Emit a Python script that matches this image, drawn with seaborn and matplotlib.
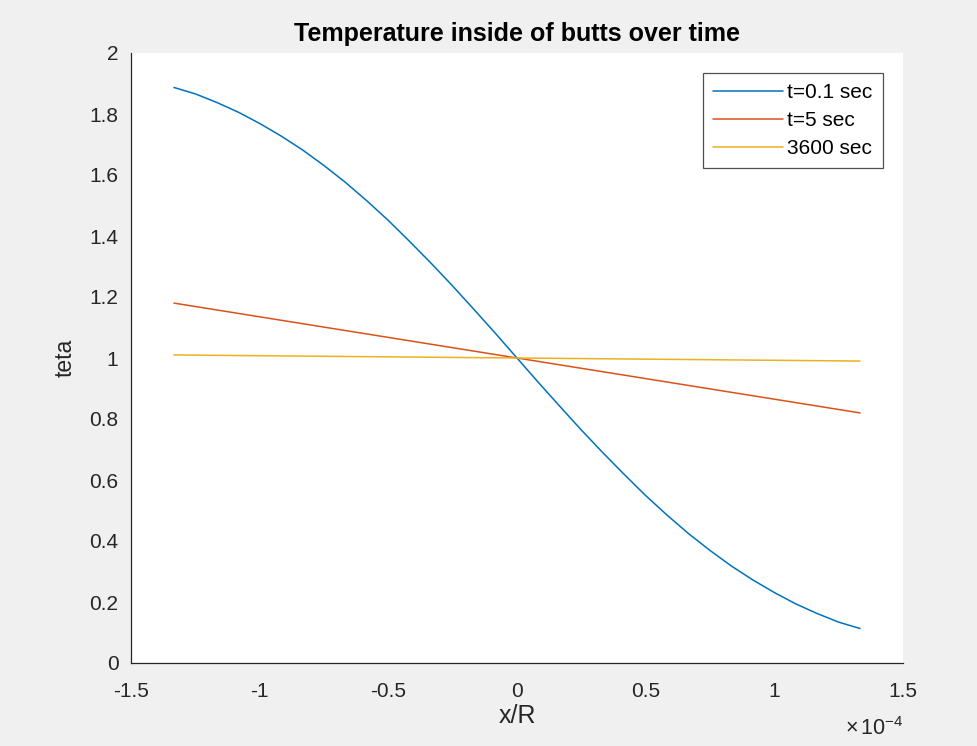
import numpy as np
import pandas as pd
import matplotlib
matplotlib.use("Agg")
import matplotlib.pyplot as plt
import seaborn as sns

# Position across the butt, x/R (units of 1e-4)
x_grid = [-1.333, -1.250, -1.167, -1.083, -1.000, -0.917, -0.833, -0.750,
          -0.667, -0.583, -0.500, -0.417, -0.333, -0.250, -0.167, -0.083,
          0.000, 0.083, 0.167, 0.250, 0.333, 0.417, 0.500, 0.583,
          0.667, 0.750, 0.833, 0.917, 1.000, 1.083, 1.167, 1.250, 1.333]

# Dimensionless temperature at t = 0.1 s
teta_01s = [1.887, 1.866, 1.838, 1.806, 1.769, 1.728, 1.682, 1.631,
            1.576, 1.515, 1.451, 1.382, 1.310, 1.236, 1.159, 1.080,
            1.000, 0.920, 0.841, 0.764, 0.690, 0.618, 0.549, 0.485,
            0.424, 0.369, 0.318, 0.272, 0.231, 0.194, 0.162, 0.134, 0.113]

# The later profiles are straight lines through the centre
x_line = [-1.333, 0.000, 1.333]
teta_5s = [1.180, 1.000, 0.820]
teta_3600s = [1.010, 1.000, 0.990]

series_names = ["t=0.1 sec", "t=5 sec", "3600 sec"]
x_tick_values = [-1.5, -1.0, -0.5, 0.0, 0.5, 1.0, 1.5]
x_tick_labels = ["-1.5", "-1", "-0.5", "0", "0.5", "1", "1.5"]
y_tick_values = [0, 0.2, 0.4, 0.6, 0.8, 1.0, 1.2, 1.4, 1.6, 1.8, 2.0]
y_tick_labels = ["0", "0.2", "0.4", "0.6", "0.8", "1", "1.2", "1.4", "1.6", "1.8", "2"]

scale = 1e-4
frames = [
    pd.DataFrame({"x": np.array(x_grid) * scale, "teta": teta_01s, "series": series_names[0]}),
    pd.DataFrame({"x": np.array(x_line) * scale, "teta": teta_5s, "series": series_names[1]}),
    pd.DataFrame({"x": np.array(x_line) * scale, "teta": teta_3600s, "series": series_names[2]}),
]
df = pd.concat(frames, ignore_index=True)

sns.set_style("white")
plt.rcParams["font.family"] = ["Liberation Sans", "DejaVu Sans"]
plt.rcParams["axes.unicode_minus"] = False
plt.rcParams["mathtext.fontset"] = "custom"
plt.rcParams["mathtext.rm"] = "Liberation Sans"
plt.rcParams["mathtext.it"] = "Liberation Sans"

ink = "#262626"
palette = ["#0072BD", "#D95319", "#EDB120"]

fig = plt.figure(figsize=(9.77, 7.46), dpi=100, facecolor="#f0f0f0")
ax = fig.add_axes([131 / 977, 1 - 663 / 746, 772 / 977, 610 / 746])
ax.set_facecolor("white")

sns.lineplot(data=df, x="x", y="teta", hue="series", hue_order=series_names,
             palette=palette, linewidth=1.1, sort=False, ax=ax, legend=True)

ax.set_xlim(-1.5 * scale, 1.5 * scale)
ax.set_ylim(0, 2)
ax.set_xticks([v * scale for v in x_tick_values])
ax.set_xticklabels(x_tick_labels)
ax.set_yticks(y_tick_values)
ax.set_yticklabels(y_tick_labels)

for side in ["top", "right"]:
    ax.spines[side].set_visible(False)
for side in ["left", "bottom"]:
    ax.spines[side].set_color(ink)
    ax.spines[side].set_linewidth(0.9)

ax.tick_params(axis="both", direction="in", length=6, width=0.9, color=ink,
               labelcolor=ink, labelsize=15)
ax.tick_params(axis="x", pad=13.5)
ax.tick_params(axis="y", pad=9)

ax.set_xlabel("x/R", fontsize=18, color=ink, labelpad=2)
ax.set_ylabel("teta", fontsize=16.5, color=ink, labelpad=9)
ax.set_title("Temperature inside of butts over time", fontsize=18,
             fontweight="bold", color="black", pad=8.5)

ax.text(1.0, -72 / 610, r"$\times\,10^{-4}$", transform=ax.transAxes,
        ha="right", va="baseline", fontsize=15.5, color=ink)

leg = ax.legend(loc="upper right", bbox_to_anchor=(752 / 772, 590 / 610),
                fontsize=15, frameon=True, fancybox=False,
                handlelength=3.36, handletextpad=0.2, borderpad=0.5,
                labelspacing=0.42, borderaxespad=0)
leg.get_frame().set_edgecolor(ink)
leg.get_frame().set_linewidth(0.9)
for t in leg.get_texts():
    t.set_color("black")

fig.savefig("out.png", dpi=100, facecolor=fig.get_facecolor())
